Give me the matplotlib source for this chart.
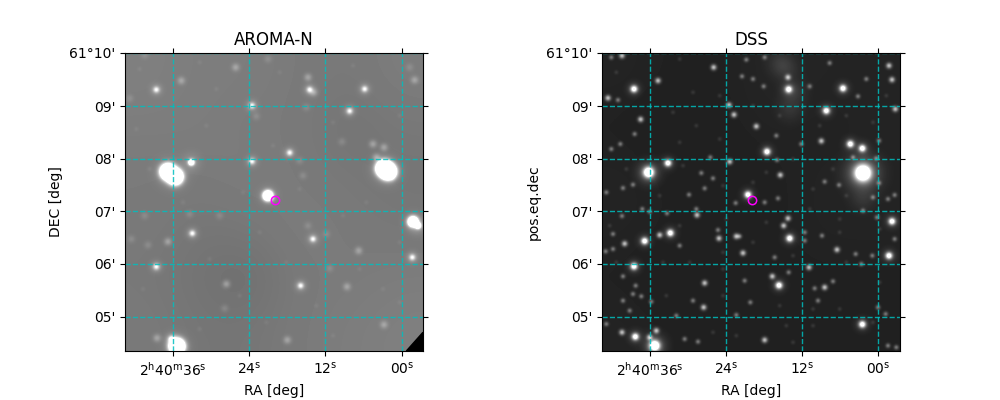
import numpy as np
import matplotlib
matplotlib.use('Agg')
import matplotlib.pyplot as plt

# Star positions are in image pixels of a 3x cutout (y runs downward)
XT_AROMA = [219, 449, 677, 907]
XT_DSS = [210, 439, 667, 895]
YT = [72, 231, 388, 546, 703, 861]
RA_LABELS = [r'$2^{\mathrm{h}}40^{\mathrm{m}}36^{\mathrm{s}}$', r'$24^{\mathrm{s}}$', r'$12^{\mathrm{s}}$', r'$00^{\mathrm{s}}$']
DEC_LABELS = ["61°10'", "09'", "08'", "07'", "06'", "05'"]

# AROMA-N stars by brightness class
aroma_giant_x = [205, 226, 853, 866, 232]
aroma_giant_y = [428, 443, 418, 428, 952]
aroma_large_x = [505, 940, 275, 955]
aroma_large_y = [500, 578, 400, 590]
aroma_bright_x = [170, 630, 795, 570, 640, 278, 170, 603, 938, 215, 750, 457, 457]
aroma_bright_y = [182, 182, 180, 371, 630, 613, 713, 770, 685, 930, 246, 230, 397]
aroma_medium_x = [853, 742, 380, 777, 205, 172, 563, 820, 853, 945, 245, 625, 408, 830, 642]
aroma_medium_y = [887, 773, 765, 665, 638, 927, 933, 345, 355, 153, 155, 145, 115, 385, 190]
aroma_faint_x = [505, 135, 90, 470, 727, 600, 610, 360, 625, 690, 375, 145, 680, 95, 135, 930, 270, 620]
aroma_faint_y = [90, 78, 208, 262, 338, 395, 440, 560, 590, 718, 838, 648, 615, 630, 560, 115, 555, 235]
aroma_speck_x = [120, 300, 350, 540, 760, 900, 110, 320, 520, 700, 880, 150, 430, 600, 800, 250, 480, 730, 900, 130, 330, 560, 780, 420, 650, 850, 300, 500, 900, 700]
aroma_speck_y = [120, 100, 180, 130, 110, 260, 300, 290, 350, 280, 450, 420, 490, 480, 520, 520, 610, 560, 640, 780, 690, 700, 720, 800, 830, 780, 900, 880, 820, 920]
aroma_bg = [[0.50, 0.49, 0.49, 0.48, 0.47, 0.49],
            [0.49, 0.49, 0.48, 0.48, 0.45, 0.47],
            [0.48, 0.48, 0.49, 0.48, 0.47, 0.46],
            [0.48, 0.46, 0.47, 0.49, 0.48, 0.47],
            [0.47, 0.45, 0.43, 0.48, 0.48, 0.49],
            [0.48, 0.46, 0.46, 0.48, 0.49, 0.50]]

# DSS stars by brightness class
dss_giant_x = [850, 207, 225]
dss_giant_y = [432, 430, 950]
dss_bright_x = [265, 627, 790, 937, 630, 505, 163, 562, 272, 195, 740, 163, 598, 848, 167, 928, 812, 848]
dss_bright_y = [402, 181, 178, 577, 628, 497, 180, 368, 612, 636, 245, 712, 769, 886, 923, 680, 345, 358]
dss_medium_x = [448, 402, 235, 625, 85, 127, 183, 463, 530, 725, 450, 602, 947, 937, 928, 490, 352, 135, 612, 625, 772, 688, 578, 375, 735, 555, 230, 210, 470, 418, 240, 372, 127]
dss_medium_y = [228, 115, 155, 145, 207, 80, 271, 257, 292, 336, 398, 438, 240, 152, 110, 672, 558, 644, 590, 568, 662, 715, 742, 762, 775, 933, 905, 925, 622, 628, 618, 835, 910]
dss_faint_x = [95, 750, 860, 835, 690, 500, 555, 487, 520, 552, 115, 165, 122, 95, 392, 375, 328, 400, 365, 160, 130, 80, 188, 210, 262, 127, 350, 595, 555, 468, 480, 415, 300, 100, 78, 100, 675, 675, 727, 828, 878, 945, 585, 845, 627, 495, 705, 760, 715, 512, 340, 290, 470, 215, 185, 168, 160, 130, 130, 150, 80, 355, 315, 895, 918, 925, 950, 880, 898, 925, 945, 850, 892, 665, 590, 592, 778, 735, 820, 890, 898]
dss_faint_y = [85, 102, 150, 202, 172, 92, 85, 142, 150, 172, 213, 315, 345, 360, 385, 478, 497, 448, 432, 467, 477, 490, 540, 548, 553, 561, 540, 508, 520, 522, 622, 603, 650, 660, 667, 615, 610, 635, 620, 675, 680, 630, 685, 705, 730, 755, 778, 757, 815, 820, 815, 860, 858, 818, 802, 770, 795, 742, 815, 845, 885, 938, 930, 835, 855, 950, 955, 505, 462, 510, 498, 545, 565, 345, 320, 393, 468, 458, 385, 388, 335]
dss_speck_x = [300, 340, 110, 280, 350, 420, 520, 600, 720, 800, 880, 920, 140, 300, 420, 560, 640, 760, 310, 430, 520, 700, 800, 240, 440, 560, 690, 780, 90, 300, 430, 520, 640, 780, 900, 250, 330, 430, 600, 700, 800, 900, 110, 260, 430, 620, 700, 780, 880, 400, 470, 640]
dss_speck_y = [90, 190, 130, 250, 290, 200, 230, 260, 290, 260, 280, 200, 420, 340, 330, 430, 390, 420, 410, 470, 460, 480, 500, 500, 570, 580, 540, 570, 590, 590, 670, 640, 680, 610, 600, 700, 700, 720, 830, 840, 700, 760, 700, 800, 800, 890, 890, 840, 880, 910, 920, 940]
dss_haze_x = [620, 645, 630, 600, 850, 850]
dss_haze_y = [120, 190, 240, 100, 432, 510]
dss_bg = [[0.14, 0.13, 0.13, 0.15, 0.14, 0.14],
          [0.13, 0.12, 0.13, 0.14, 0.13, 0.14],
          [0.14, 0.13, 0.12, 0.13, 0.14, 0.14],
          [0.14, 0.13, 0.13, 0.13, 0.14, 0.14],
          [0.13, 0.12, 0.13, 0.13, 0.13, 0.13],
          [0.14, 0.13, 0.13, 0.13, 0.13, 0.13]]

TARGET_AROMA = (526, 511)
TARGET_DSS = (517, 511)


def add_stars(flux, gx, gy, xs, ys, sigma, peak):
    for x, y in zip(xs, ys):
        flux += peak * np.exp(-((gx - x) ** 2 + (gy - y) ** 2) / (2 * sigma ** 2))


def draw_panel(rect, x0, classes, bg, xticks, target, title, ylabel):
    ax = fig.add_axes(rect)
    x1, y0, y1 = x0 + 894, 964, 72
    gx, gy = np.meshgrid(np.arange(x0, x1, 3) + 1.5, np.arange(y1, y0, 3) + 1.5)
    flux = np.zeros_like(gx, dtype=float)
    for xs, ys, sigma, peak in classes:
        add_stars(flux, gx, gy, xs, ys, sigma, peak)
    stars = np.ones(flux.shape + (4,))
    stars[..., 3] = np.clip(flux, 0, 1)

    ax.imshow(bg, cmap='gray', vmin=0, vmax=1, extent=(x0, x1, y0, y1),
              interpolation='bicubic', aspect='auto', zorder=0)
    ax.imshow(stars, extent=(x0, x1, y0, y1), interpolation='nearest', aspect='auto', zorder=0.5)
    ax.set_xlim(x0, x1)
    ax.set_ylim(y0, y1)

    ax.set_xticks(xticks, RA_LABELS)
    ax.set_yticks(YT, DEC_LABELS)
    ax.tick_params(top=True, right=True)
    ax.grid(True, color='c', linestyle='--', linewidth=1.0, alpha=0.85)
    ax.plot(*target, 'o', mfc='none', mec='magenta', ms=6, mew=1.1)
    ax.set_title(title, fontsize=12)
    ax.set_xlabel('RA [deg]')
    ax.set_ylabel(ylabel)
    return ax


fig = plt.figure(figsize=(10, 4), dpi=100)

aroma_classes = [
    (aroma_giant_x, aroma_giant_y, 13, 6),
    (aroma_giant_x, aroma_giant_y, 26, 0.15),
    (aroma_large_x[:2], aroma_large_y[:2], 9, 4),
    (aroma_large_x[2:], aroma_large_y[2:], 6, 2.2),
    (aroma_large_x, aroma_large_y, 18, 0.2),
    (aroma_bright_x, aroma_bright_y, 6, 0.8),
    (aroma_bright_x, aroma_bright_y, 12, 0.25),
    (aroma_medium_x, aroma_medium_y, 8, 0.32),
    (aroma_faint_x, aroma_faint_y, 8, 0.14),
    (aroma_speck_x, aroma_speck_y, 5, 0.06),
]
ax1 = draw_panel([0.125, 0.1225, 0.298, 0.745], 76, aroma_classes, aroma_bg, XT_AROMA,
                 TARGET_AROMA, 'AROMA-N', 'DEC [deg]')
ax1.fill([920, 970, 970], [964, 908, 964], color='black', zorder=1)

dss_classes = [
    (dss_giant_x[:1], dss_giant_y[:1], 15, 1.8),
    (dss_giant_x[:1], dss_giant_y[:1], 34, 0.35),
    (dss_giant_x[1:], dss_giant_y[1:], 10, 1.6),
    (dss_giant_x[1:], dss_giant_y[1:], 22, 0.3),
    (dss_bright_x, dss_bright_y, 7, 1.1),
    (dss_bright_x, dss_bright_y, 14, 0.18),
    (dss_medium_x, dss_medium_y, 6, 0.7),
    (dss_faint_x, dss_faint_y, 5, 0.38),
    (dss_speck_x, dss_speck_y, 4.5, 0.1),
    (dss_haze_x, dss_haze_y, 26, 0.08),
]
ax2 = draw_panel([0.602, 0.1225, 0.298, 0.745], 67, dss_classes, dss_bg, XT_DSS,
                 TARGET_DSS, 'DSS', 'pos.eq.dec')

fig.savefig('out.png', dpi=100)
